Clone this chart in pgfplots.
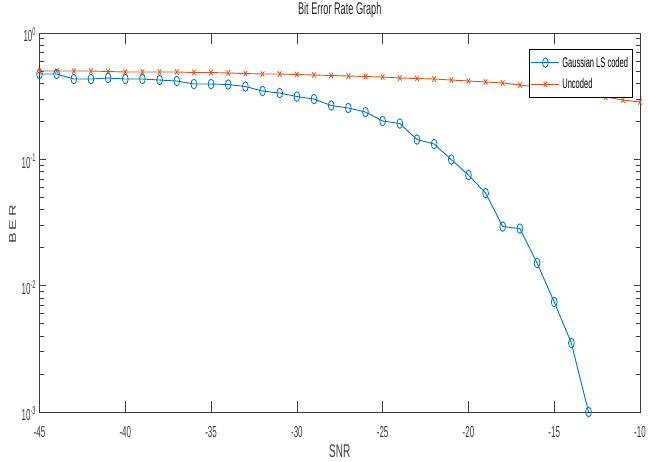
\documentclass[border=0pt]{standalone}
\usepackage{fontspec}
\setmainfont{Liberation Sans}[FakeStretch=0.54]
\newfontfamily\plainfont{Liberation Sans}
\newfontfamily\tickfont{Liberation Sans}[FakeStretch=0.5]
\usepackage{graphicx}
\usepackage{pgfplots}
\pgfplotsset{compat=1.18}
\definecolor{mblue}{rgb}{0,0.447,0.741}
\definecolor{morange}{rgb}{0.85,0.325,0.098}
\definecolor{axgray}{RGB}{60,60,60}
\begin{document}
\begin{tikzpicture}
\path[use as bounding box] (-39.5bp,-50bp) rectangle (608.5bp,412bp);
\begin{axis}[
  at={(0,0)}, anchor=south west,
  scale only axis, width=600.5bp, height=379bp,
  ymode=log,
  xmin=-45, xmax=-10, ymin=1e-3, ymax=1,
  xtick={-45,-40,-35,-30,-25,-20,-15,-10},
  xticklabels={-45,-40,-35,-30,-25,-20,-15,-10},
  ytick={1e-3,1e-2,1e-1,1},
  yticklabels={10\textsuperscript{-3},10\textsuperscript{-2},10\textsuperscript{-1},10\textsuperscript{0}},
  minor xtick={},
  major tick length=7bp, minor tick length=4bp,
  tick style={axgray, line width=0.7bp},
  xtick style={/pgfplots/major tick length=11bp},
  ytick style={/pgfplots/major tick length=6.5bp},
  axis line style={axgray, line width=0.9bp},
  xticklabel style={font=\tickfont\fontsize{16}{16}\selectfont, anchor=base, yshift=-25bp, text=axgray},
  yticklabel style={font=\tickfont\fontsize{16}{16}\selectfont, anchor=east, xshift=0bp, yshift=-2bp, text=axgray},
  title={Bit Error Rate Graph},
  title style={font=\fontsize{17}{17}\selectfont, at={(axis description cs:0.5,1)}, anchor=base, yshift=13bp, text=black!85},
  xlabel={SNR},
  xlabel style={font=\fontsize{18.5}{18.5}\selectfont, at={(axis description cs:0.5,0)}, anchor=base, yshift=-45bp, text=axgray},
  ylabel={\scalebox{1}[0.6]{\plainfont\fontsize{16}{16}\selectfont B\,E\,R}},
  ylabel style={at={(axis description cs:-0.045,0.495)}, anchor=center, text=axgray},
  legend style={at={(0.9883,0.9578)}, anchor=north east, draw=black, line width=0.8bp, fill=white,
    font=\fontsize{14}{14}\selectfont, inner xsep=2bp, inner ysep=5bp, row sep=5bp,
    nodes={inner sep=2.5bp, text=black}},
  legend cell align=left,
  legend image code/.code={\draw[mark repeat=2, mark phase=2, #1] plot coordinates {(0bp,0bp) (14bp,0bp) (28bp,0bp)};},
]
\addplot[color=mblue, line width=0.9bp, mark=o, mark size=4.8bp, mark options={xscale=0.6, line width=0.8bp}] coordinates {
(-45,0.4735) (-44,0.4735) (-43,0.4322) (-42,0.4322) (-41,0.4402) (-40,0.4322) (-39,0.4322) (-38,0.4244) (-37,0.4169) (-36,0.3946) (-35,0.3946) (-34,0.3910) (-33,0.3770) (-32,0.3473) (-31,0.3349) (-30,0.3141) (-29,0.3002) (-28,0.2667) (-27,0.2548) (-26,0.2368) (-25,0.2010) (-24,0.1920) (-23,0.1435) (-22,0.1322) (-21,0.0996) (-20,0.0751) (-19,0.0541) (-18,0.02937) (-17,0.02832) (-16,0.01510) (-15,0.00742) (-14,0.00351) (-13,0.001)
};
\addlegendentry{Gaussian LS coded}
\addplot[color=morange, line width=0.9bp, mark=x, mark size=3.8bp, mark options={xscale=0.65, line width=0.8bp}] coordinates {
(-45,0.5002) (-44,0.5002) (-43,0.5002) (-42,0.5002) (-41,0.4957) (-40,0.4912) (-39,0.4912) (-38,0.4912) (-37,0.4912) (-36,0.4867) (-35,0.4867) (-34,0.4823) (-33,0.4779) (-32,0.4735) (-31,0.4735) (-30,0.4692) (-29,0.4650) (-28,0.4607) (-27,0.4565) (-26,0.4524) (-25,0.4483) (-24,0.4402) (-23,0.4362) (-22,0.4322) (-21,0.4244) (-20,0.4169) (-19,0.4093) (-18,0.4019) (-17,0.3875) (-16,0.3736) (-15,0.3601) (-14,0.3473) (-13,0.3289) (-12,0.3113) (-11,0.2947) (-10,0.2842)
};
\addlegendentry{Uncoded}
\end{axis}
\end{tikzpicture}
\end{document}
